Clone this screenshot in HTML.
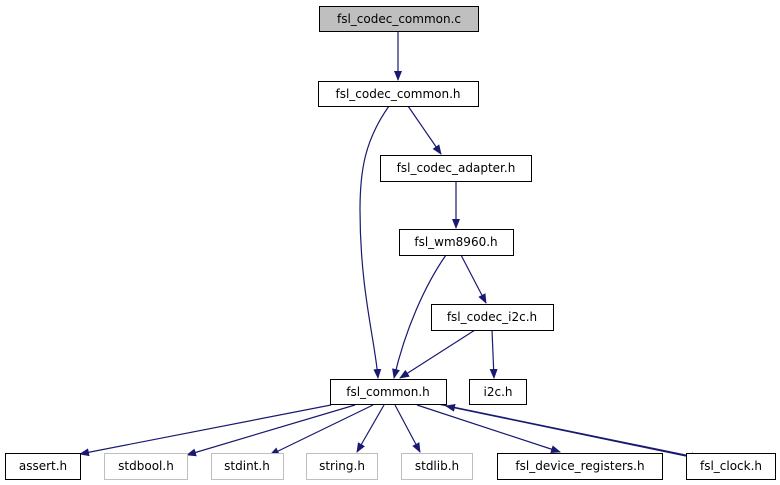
<!DOCTYPE html>
<html><head><meta charset="utf-8"><style>
html,body{margin:0;padding:0;background:#fff;width:780px;height:485px;overflow:hidden}
text{font-family:"DejaVu Sans","Liberation Sans",sans-serif;font-size:12px;text-anchor:middle}
</style></head><body>
<svg width="780" height="485" viewBox="0 0 780 485" xmlns="http://www.w3.org/2000/svg">
<defs><marker id="a" markerWidth="10" markerHeight="8" refX="9" refY="4" orient="auto" markerUnits="userSpaceOnUse"><path d="M0,0 L10,4 L0,8 z" fill="#191970"/></marker></defs>
<g stroke="#191970" stroke-width="1.2" fill="none" marker-end="url(#a)">
<path d="M398,31 L398,80"/>
<path d="M389,106 C365,140 360,170 360,210 C360,290 375,340 378,378"/>
<path d="M408,106 L441,154"/>
<path d="M456,181 L456,228"/>
<path d="M446,255 C425,285 405,330 394,378"/>
<path d="M461,255 L486,303"/>
<path d="M475,330 L400,378"/>
<path d="M492,330 L494,378"/>
<path d="M331,405 L80,454"/>
<path d="M355,405 L187,455"/>
<path d="M373,405 L270,455"/>
<path d="M384,405 L357,452"/>
<path d="M395,405 L420,452"/>
<path d="M417,405 L560,452"/>
<path d="M438,404 L700,458"/>
<path d="M686,456 L446,406"/>
</g>
<g stroke-width="1" fill="#fff">
<rect x="319.5" y="6.5" width="159" height="25" fill="#bfbfbf" stroke="#000"/>
<rect x="318.5" y="81.5" width="160" height="25" stroke="#000"/>
<rect x="380.5" y="155.5" width="151" height="26" stroke="#000"/>
<rect x="399.5" y="229.5" width="114" height="26" stroke="#000"/>
<rect x="431.5" y="304.5" width="122" height="26" stroke="#000"/>
<rect x="330.5" y="379.5" width="116" height="25" stroke="#000"/>
<rect x="469.5" y="379.5" width="57" height="25" stroke="#000"/>
<rect x="5.5" y="453.5" width="75" height="26" stroke="#000"/>
<rect x="104.5" y="453.5" width="83" height="26" stroke="#bfbfbf"/>
<rect x="211.5" y="453.5" width="72" height="26" stroke="#bfbfbf"/>
<rect x="306.5" y="453.5" width="71" height="26" stroke="#bfbfbf"/>
<rect x="401.5" y="453.5" width="71" height="26" stroke="#bfbfbf"/>
<rect x="497.5" y="453.5" width="165" height="26" stroke="#000"/>
<rect x="686.5" y="453.5" width="89" height="26" stroke="#000"/>
</g>
<g fill="#000">
<text x="399" y="23">fsl_codec_common.c</text>
<text x="398" y="98">fsl_codec_common.h</text>
<text x="456" y="172">fsl_codec_adapter.h</text>
<text x="456" y="246">fsl_wm8960.h</text>
<text x="492" y="321">fsl_codec_i2c.h</text>
<text x="388" y="396">fsl_common.h</text>
<text x="498" y="396">i2c.h</text>
<text x="43" y="470">assert.h</text>
<text x="146" y="470">stdbool.h</text>
<text x="247" y="470">stdint.h</text>
<text x="342" y="470">string.h</text>
<text x="437" y="470">stdlib.h</text>
<text x="580" y="470">fsl_device_registers.h</text>
<text x="731" y="470">fsl_clock.h</text>
</g>
</svg>
</body></html>
